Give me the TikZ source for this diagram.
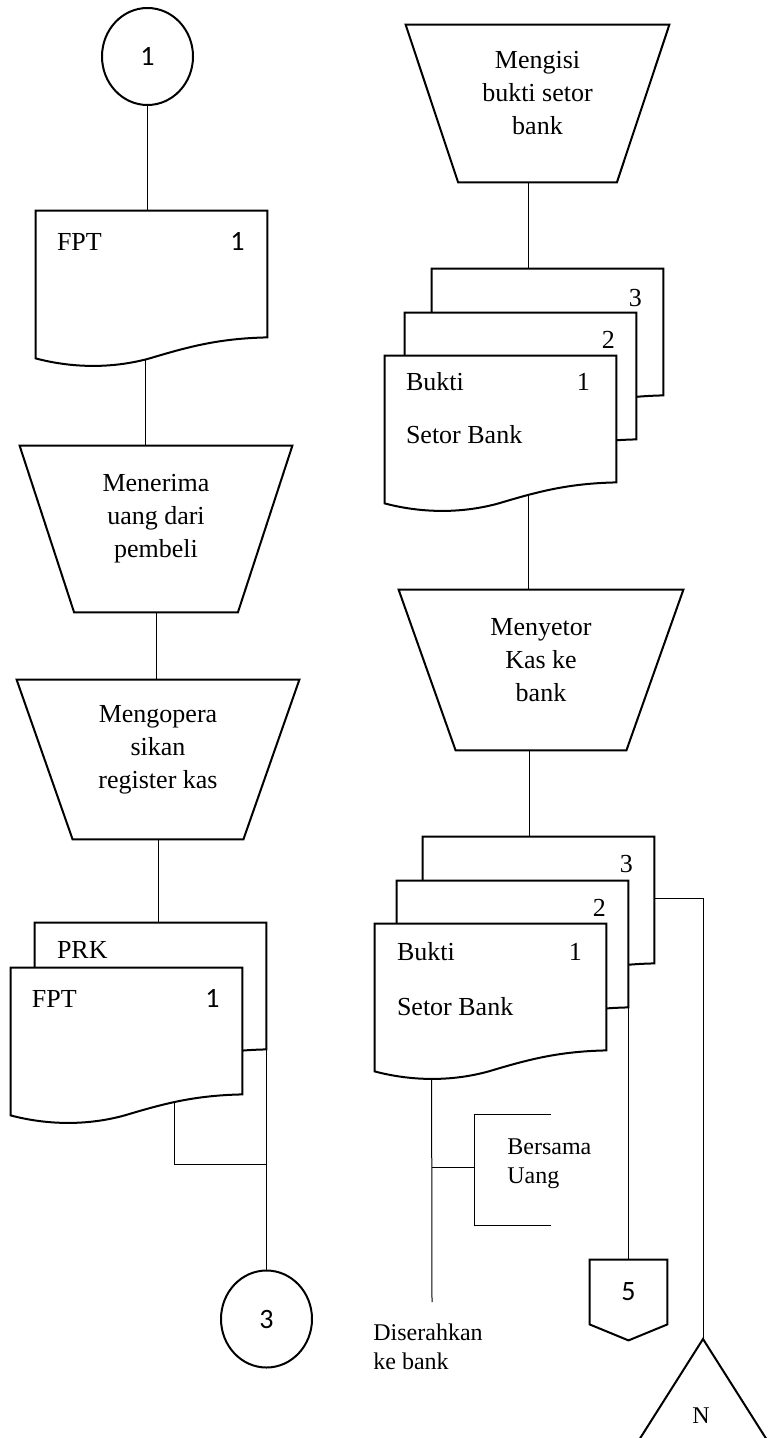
\documentclass[tikz,border=0pt]{standalone}
\usepackage{fontspec}
\setmainfont{Liberation Serif}
\newfontfamily\calibri{Carlito}
\usetikzlibrary{shapes.geometric,calc}

\tikzstyle{conn} = [line width=0.5pt]
\tikzstyle{shp} = [draw=black, line width=1pt, fill=white]
\tikzstyle{connector} = [ellipse, minimum width=45.5pt, minimum height=48.5pt, draw=black, line width=1pt, inner sep=0pt, font=\calibri\fontsize{14}{16}\selectfont]
\tikzstyle{manual} = [rectangle, inner sep=0pt]
\tikzstyle{doc} = [rectangle, minimum width=115.5pt, minimum height=63pt, inner sep=0pt]
\tikzstyle{proctext} = [align=center, inner sep=0pt, font=\fontsize{13}{16.5}\selectfont]
\tikzstyle{doctext} = [anchor=west, inner sep=0pt, font=\fontsize{13}{15}\selectfont]
\tikzstyle{docnum} = [inner sep=0pt, font=\calibri\fontsize{14}{16}\selectfont]
\tikzstyle{docnumr} = [inner sep=0pt, font=\fontsize{13}{15}\selectfont]
\tikzstyle{note} = [align=left, anchor=west, inner sep=0pt, font=\fontsize{12}{14.5}\selectfont]

\newcommand{\docshape}[1]{%
  \draw[shp] (#1.south east) -- (#1.north east) -- (#1.north west) -- ($(#1.south west)+(0,21)$)
    .. controls ($(#1.south west)+(34,30)$) and ($(#1.south west)+(74,32)$) .. ($(#1.south west)+(114,21)$)
    .. controls ($(#1.south west)+(154,9)$) and ($(#1.south west)+(184,1)$) .. (#1.south east) -- cycle;}
\newcommand{\manualshape}[2]{%
  \draw[shp] (#1.north west) -- (#1.north east) -- ($(#1.south east)+(-#2,0)$) -- ($(#1.south west)+(#2,0)$) -- cycle;}

\begin{document}
\begin{tikzpicture}[x=0.5pt, y=-0.5pt]
\useasboundingbox (0,0) rectangle (773,1438);

% Kasir
\node (c1) [connector] at (147.5,56.5) {1};

\node (fpt1) [doc] at (151.5,274) {};
\docshape{fpt1}
\node (fpt1l) [doctext] at ($(fpt1.north west)+(21,31)$) {FPT};
\node (fpt1n) [docnum] at ($(fpt1.north east)+(-30,31)$) {1};

\node (t1) [manual, minimum width=136pt, minimum height=83pt] at (156,529) {};
\manualshape{t1}{54.5}
\node (t1l) [proctext] at ($(t1)+(0,-10)$) {Menerima\\uang dari\\pembeli};

\node (t2) [manual, minimum width=141pt, minimum height=79.5pt] at (158,759.5) {};
\manualshape{t2}{56}
\node (t2l) [proctext] at ($(t2)+(0,-10)$) {Mengopera\\sikan\\register kas};

\node (prk) [doc] at (150.5,986) {};
\docshape{prk}
\node (prkl) [doctext] at ($(prk.north west)+(22,27)$) {PRK};

\node (fpt2) [doc] at (126.5,1031) {};
\docshape{fpt2}
\node (fpt2l) [doctext] at ($(fpt2.north west)+(21,31)$) {FPT};
\node (fpt2n) [docnum] at ($(fpt2.north east)+(-30,31)$) {1};

\node (c3) [connector] at (266.5,1319) {3};

\draw [conn] (c1.south) -- (c1.south |- fpt1.north);
\coordinate (fpt1b) at ($(fpt1.south west)+(110,22)$);
\draw [conn] (fpt1b) -- (fpt1b |- t1.north);
\draw [conn] (t1.south) -- (t1.south |- t2.north);
\draw [conn] (t2.south) -- (t2.south |- prk.north);
\coordinate (fpt2b) at ($(fpt2.south west)+(164,7)$);
\draw [conn] (fpt2b) |- ($(prk.south east)+(0,115)$);
\draw [conn] (prk.south east) -- (prk.south east |- c3.north);

% Setor bank
\node (t3) [manual, minimum width=131.5pt, minimum height=78.5pt] at (537.5,103.5) {};
\manualshape{t3}{52.5}
\node (t3l) [proctext] at ($(t3)+(0,-10)$) {Mengisi\\bukti setor\\bank};

\node (s1c) [doc] at (547.5,332) {};
\docshape{s1c}
\node (s1cn) [docnumr] at ($(s1c.north east)+(-28,29)$) {3};
\node (s1b) [doc] at (520.5,376) {};
\docshape{s1b}
\node (s1bn) [docnumr] at ($(s1b.north east)+(-28,27)$) {2};
\node (s1a) [doc] at (500.5,419) {};
\docshape{s1a}
\node (s1al) [doctext] at ($(s1a.north west)+(21,26)$) {Bukti};
\node (s1an) [docnumr] at ($(s1a.north east)+(-33,26)$) {1};
\node (s1as) [doctext] at ($(s1a.north west)+(21,79)$) {Setor Bank};

\node (t4) [manual, minimum width=142pt, minimum height=80pt] at (541,670) {};
\manualshape{t4}{57}
\node (t4l) [proctext] at ($(t4)+(0,-10)$) {Menyetor\\Kas ke\\bank};

\node (s2c) [doc] at (538.5,900) {};
\docshape{s2c}
\node (s2cn) [docnumr] at ($(s2c.north east)+(-28,27)$) {3};
\node (s2b) [doc] at (512.5,944) {};
\docshape{s2b}
\node (s2bn) [docnumr] at ($(s2b.north east)+(-29,27)$) {2};
\node (s2a) [doc] at (490.5,987) {};
\docshape{s2a}
\node (s2al) [doctext] at ($(s2a.north west)+(22,28)$) {Bukti};
\node (s2an) [docnumr] at ($(s2a.north east)+(-31,28)$) {1};
\node (s2as) [doctext] at ($(s2a.north west)+(22,83)$) {Setor Bank};

\node (off5) [minimum width=38.5pt, minimum height=32pt, inner sep=0pt, font=\calibri\fontsize{14}{16}\selectfont] at (628.5,1292) {5};
\draw [shp, fill=none] (off5.south west) -- (off5.north west) -- (off5.north east) -- (off5.south east) -- ($(off5.south)+(0,16)$) -- cycle;

\node (ann) [note] at (507,1164) {Bersama\\Uang};
\node (dis) [note] at (373,1347) {Diserahkan\\ke bank};

\coordinate (tapex) at (703,1339);
\draw [shp, fill=none] ($(tapex)+(-64,101)$) -- (tapex) -- ($(tapex)+(64,101)$);
\node (tn) [inner sep=0pt, font=\fontsize{12}{14}\selectfont] at (701,1416) {N};

\coordinate (t3b) at ($(t3.south)+(-9,0)$);
\draw [conn] (t3b) -- (t3b |- s1c.north);
\coordinate (s1ab) at ($(s1a.south west)+(144,13)$);
\draw [conn] (s1ab) -- (s1ab |- t4.north);
\coordinate (t4b) at ($(t4.south)+(-12,0)$);
\draw [conn] (t4b) -- (t4b |- s2c.north);
\coordinate (s2cr) at ($(s2c.north east)+(0,62)$);
\draw [conn] (s2cr) -| (tapex);
\draw [conn] (s2b.south east) -- (s2b.south east |- off5.north);
\coordinate (s2ab) at ($(s2a.south west)+(57,28)$);
\coordinate (s2end) at (432,1302);
\draw [conn] (s2ab) -- (s2end);
\coordinate (annbr) at ($(ann.west)+(-33,3)$);
\draw [conn] (annbr) -- (annbr -| s2ab);
\draw [conn] ($(ann.west)+(44,-50)$) -- ($(ann.west)+(-33,-50)$) -- ($(ann.west)+(-33,61)$) -- ($(ann.west)+(44,61)$);
\end{tikzpicture}
\end{document}
